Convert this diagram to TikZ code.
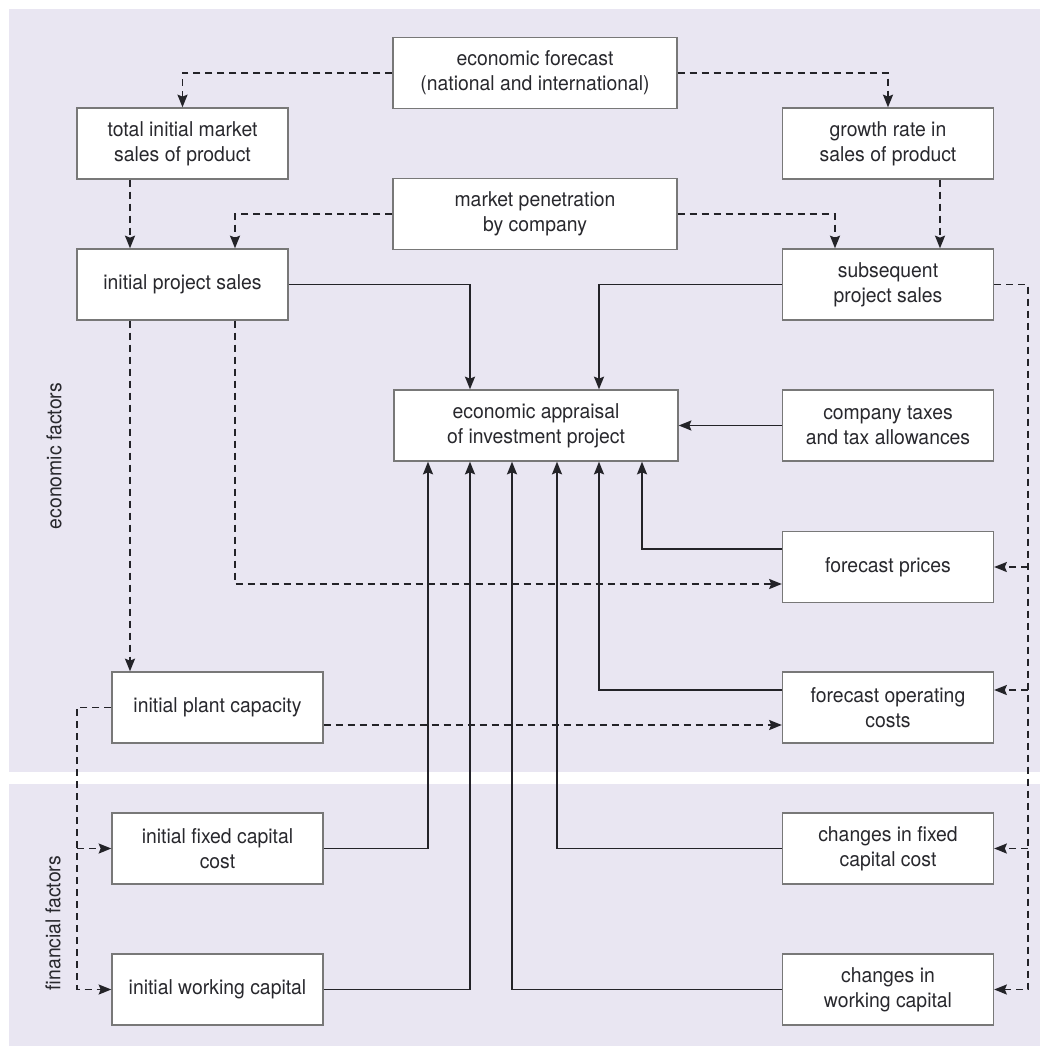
\documentclass[tikz,border=0pt]{standalone}
\usepackage{fontspec}
\setmainfont[FakeStretch=0.95]{TeX Gyre Heros}
\usetikzlibrary{arrows.meta,calc}
\definecolor{lav}{RGB}{233,230,242}
\definecolor{bord}{RGB}{120,120,120}
\definecolor{ink}{RGB}{35,35,40}
\definecolor{txt}{RGB}{40,40,45}
\begin{document}
\begin{tikzpicture}[x=0.75pt,y=-0.75pt,
  box/.style={draw=bord,line width=1pt,fill=white,minimum width=158.25pt,minimum height=53.25pt,
    inner sep=0pt,align=center,text=txt,font=\fontsize{15.3}{18.5}\selectfont},
  wide/.style={box,minimum width=213pt},
  link/.style={draw=ink,line width=1.35pt,-{Stealth[length=9.5pt,width=7.5pt,inset=1.5pt]}},
  dlink/.style={link,dash pattern=on 5.25pt off 3.75pt},
  lbl/.style={rotate=90,text=txt,font=\fontsize{15.3}{18.5}\selectfont}]
\useasboundingbox (0,0) rectangle (1050,1046);
\fill[lav] (9,9) rectangle (1040,1046);
\fill[white] (9,772) rectangle (1040,784);

\node[wide] (ef) at (535,73) {economic forecast\\(national and international)};
\node[box] (tims) at (182.5,143.5) {total initial market\\sales of product};
\node[box] (gr) at (888,143.5) {growth rate in\\sales of product};
\node[wide] (mp) at (535,214) {market penetration\\by company};
\node[box] (ips) at (182.5,284.5) {initial project sales};
\node[box] (sps) at (888,284.5) {subsequent\\project sales};
\node[wide] (ea) at (536,425.5) {economic appraisal\\of investment project};
\node[box] (ct) at (888,425.5) {company taxes\\and tax allowances};
\node[box] (fp) at (888,567) {forecast prices};
\node[box] (foc) at (888,707.5) {forecast operating\\costs};
\node[box] (cfc) at (888,848.5) {changes in fixed\\capital cost};
\node[box] (cwc) at (888,989.5) {changes in\\working capital};
\node[box] (ipc) at (217.5,707.5) {initial plant capacity};
\node[box] (ifc) at (217.5,848.5) {initial fixed capital\\cost};
\node[box] (iwc) at (217.5,989.5) {initial working capital};

\node[lbl] (lecon) at (54,456) {economic factors};
\node[lbl] (lfin) at (53,923) {financial factors};

\coordinate (xa) at (130,0);
\coordinate (xb) at (235,0);
\coordinate (xc) at (835,0);
\coordinate (xd) at (940,0);
\coordinate (xe) at (470,0);
\coordinate (xf) at (599,0);
\coordinate (xg) at (642,0);
\coordinate (xh) at (557,0);
\coordinate (xi) at (512,0);
\coordinate (xj) at (428,0);
\coordinate (xk) at (77,0);
\coordinate (xl) at (1028,0);

\draw[dlink] (ef.west) -| (tims.north);
\draw[dlink] (ef.east) -| (gr.north);
\draw[dlink] (tims.south -| xa) -- (ips.north -| xa);
\draw[dlink] (mp.west) -| (ips.north -| xb);
\draw[dlink] (mp.east) -| (sps.north -| xc);
\draw[dlink] (gr.south -| xd) -- (sps.north -| xd);

\draw[link] (ips.east) -| (ea.north -| xe);
\draw[link] (sps.west) -| (ea.north -| xf);
\draw[link] (ct.west) -- (ea.east);
\coordinate (fpA) at ([yshift=13.5pt]fp.west);
\draw[link] (fpA) -| (ea.south -| xg);
\coordinate (focA) at ([yshift=13.125pt]foc.west);
\draw[link] (focA) -| (ea.south -| xf);
\draw[link] (cfc.west) -| (ea.south -| xh);
\draw[link] (cwc.west) -| (ea.south -| xi);
\draw[link] (ifc.east) -| (ea.south -| xj);
\draw[link] (iwc.east) -| (ea.south -| xe);

\draw[dlink] (ips.south -| xa) -- (ipc.north -| xa);
\coordinate (fpB) at ([yshift=-12.75pt]fp.west);
\draw[dlink] (ips.south -| xb) |- (fpB);
\draw[dlink] (ipc.west) -| (xk |- iwc.west) -- (iwc.west);
\draw[dlink] (xk |- ifc.west) -- (ifc.west);
\coordinate (ipcB) at ([yshift=-13.125pt]ipc.east);
\coordinate (focB) at ([yshift=-13.125pt]foc.west);
\draw[dlink] (ipcB) -- (focB);

\draw[dlink] (sps.east) -| (xl |- cwc.east) -- (cwc.east);
\draw[dlink] (xl |- fp.east) -- (fp.east);
\coordinate (focC) at ([yshift=13.125pt]foc.east);
\draw[dlink] (xl |- focC) -- (focC);
\draw[dlink] (xl |- cfc.east) -- (cfc.east);
\end{tikzpicture}
\end{document}
